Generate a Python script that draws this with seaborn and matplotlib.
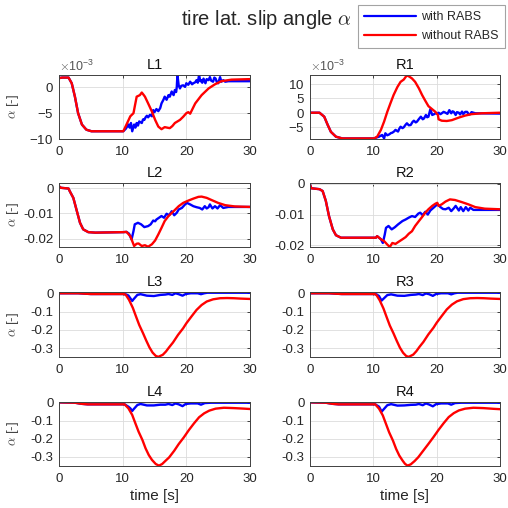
import numpy as np
import pandas as pd
import matplotlib
matplotlib.use("Agg")
import matplotlib.pyplot as plt
from matplotlib.lines import Line2D
from matplotlib.ticker import FuncFormatter
import seaborn as sns

# ---------------------------------------------------------------------------
# Tire lateral slip angle per wheel, with and without RABS.
# Each wheel: a common stretch before braking (pre), then separate tails.
# Row-1 wheels (L1, R1) are listed in units of 1e-3.
# ---------------------------------------------------------------------------
series_names = ["with RABS", "without RABS"]
series_colors = ["#0000ff", "#ff0000"]
wheel_names = ["L1", "R1", "L2", "R2", "L3", "R3", "L4", "R4"]
time_ticks = [0, 10, 20, 30]

# L1 (x1e-3)
l1_pre_t = [0, 0.5, 1.5, 2.0, 2.5, 3.0, 3.6, 4.3, 5.1, 7.0, 10.1]
l1_pre = [1.8, 1.9, 1.9, 0.8, -1.8, -5.0, -7.2, -8.2, -8.5, -8.5, -8.5]
l1_with_t = [10.5, 10.9, 11.1, 11.3, 11.5, 11.8, 12.0, 12.2, 12.4, 12.6, 13.0, 13.2, 13.4, 13.6, 13.8,
             14.0, 14.3, 14.6, 14.8, 15.0, 15.3, 15.6, 15.9, 16.1, 16.4, 16.6, 16.9, 17.2, 17.4, 17.7,
             18.0, 18.2, 18.4, 18.5, 18.6, 18.8, 19.0, 19.2, 19.5, 19.8, 20.0, 20.3, 20.6, 20.9, 21.1,
             21.4, 21.6, 21.8, 22.0, 22.2, 22.3, 22.5, 22.7, 23.0, 23.2, 23.5, 23.7, 23.9, 24.2, 24.4,
             24.6, 24.8, 25.0, 25.3, 25.5, 25.8, 26.1, 26.6, 30.0]
l1_with = [-8.0, -7.2, -7.8, -6.9, -8.5, -7.2, -7.8, -6.9, -7.4, -6.6, -6.9, -6.2, -6.3, -5.8, -5.5,
           -5.8, -5.3, -5.6, -4.4, -4.8, -4.2, -4.6, -4.0, -3.1, -2.4, -1.8, -2.4, -1.5, -1.8, -0.8,
           -1.5, -0.5, -0.9, 0.1, 2.4, 0.4, -0.2, 0.3, 0.4, 0.1, 0.8, 0.5, 1.1, 0.6, 0.8,
           1.0, 1.4, 0.9, 2.4, 1.2, 1.4, 0.9, 1.7, 0.8, 1.6, 1.4, 2.0, 1.3, 1.1, 1.9,
           1.7, 1.0, 0.8, 2.0, 1.1, 1.4, 1.1, 1.2, 1.2]
l1_without_t = [10.6, 11.2, 11.7, 11.9, 12.2, 12.7, 13.0, 13.2, 13.5, 14.0, 14.6, 15.1, 15.6, 16.1,
                16.6, 17.0, 17.4, 17.8, 18.2, 19.0, 19.5, 20.0, 20.3, 20.6, 20.8, 21.4, 22.4, 23.5,
                24.5, 25.5, 27.1, 30.0]
l1_without = [-7.2, -5.6, -5.0, -3.7, -1.8, -1.5, -1.0, -1.3, -1.8, -3.1, -4.7, -6.3, -7.6, -8.1,
              -7.7, -7.8, -7.9, -7.5, -6.9, -6.3, -5.7, -5.0, -4.8, -5.1, -4.6, -3.1, -1.5, -0.2,
              0.6, 1.2, 1.5, 1.6]

# R1 (x1e-3)
r1_pre_t = [0, 1.5, 2.25, 2.8, 3.3, 4.1, 5.1, 8.0, 10.1]
r1_pre = [0.0, 0.0, -1.4, -4.3, -6.7, -8.4, -9.0, -9.0, -9.0]
r1_with_t = [10.6, 10.9, 11.2, 11.4, 11.7, 11.9, 12.2, 12.5, 12.8, 13.0, 13.3, 13.5, 13.9, 14.1, 14.3,
             14.6, 14.8, 15.1, 15.3, 15.6, 15.9, 16.2, 16.4, 16.7, 16.9, 17.2, 17.5, 17.8, 18.0, 18.3,
             18.5, 18.7, 19.0, 19.3, 19.6, 19.8, 20.1, 20.3, 20.6, 20.8, 21.1, 21.4, 21.7, 22.0, 22.3,
             22.5, 22.7, 23.0, 23.2, 23.5, 23.7, 24.0, 24.2, 24.5, 24.8, 25.1, 25.3, 25.5, 26.1, 30.0]
r1_with = [-8.6, -8.4, -8.0, -7.8, -9.0, -7.2, -7.9, -7.6, -7.1, -7.0, -6.5, -6.0, -6.6, -5.6, -4.9,
           -5.4, -5.1, -4.2, -3.7, -4.4, -4.3, -3.2, -2.8, -3.4, -3.1, -2.2, -1.4, -2.3, -2.0, -0.8,
           -1.6, -1.4, 1.2, -0.8, -0.5, -0.2, -0.4, 0.0, -0.5, -0.2, 0.3, 0.0, -0.4, 0.9, -0.2,
           0.5, 0.3, -0.8, 0.2, 0.0, -0.6, 0.4, -0.5, 0.3, 0.3, -0.6, -0.5, 0.2, -0.2, -0.3]
r1_without_t = [10.6, 11.2, 11.7, 12.2, 12.7, 13.2, 13.8, 14.3, 14.8, 15.3, 15.7, 16.1, 16.6, 17.2,
                17.7, 18.2, 18.7, 19.3, 19.8, 20.2, 20.3, 20.8, 21.6, 22.4, 23.5, 24.5, 25.5, 27.1, 30.0]
r1_without = [-8.4, -6.0, -3.1, 0.3, 3.3, 6.2, 9.0, 10.8, 11.6, 13.1, 12.6, 12.0, 10.8, 8.5,
              6.2, 4.2, 2.3, 1.2, 0.3, -0.8, -2.3, -2.8, -2.9, -2.6, -1.7, -1.0, -0.5, -0.2, 0.0]

# L2
l2_pre_t = [0, 0.3, 1.5, 1.7, 2.25, 2.8, 3.3, 3.8, 4.6, 5.7, 8.0, 10.1, 10.6]
l2_pre = [0.0008, 0.0002, -0.0001, -0.0012, -0.0038, -0.0090, -0.0137, -0.0163, -0.0174, -0.0176,
          -0.0175, -0.0174, -0.0173]
l2_with_t = [11.0, 11.4, 11.7, 11.9, 12.4, 12.9, 13.4, 14.0, 14.4, 14.8, 15.1, 15.3, 15.7, 16.1, 16.5,
             16.9, 17.3, 17.7, 18.1, 18.5, 18.8, 19.3, 19.8, 20.1, 20.6, 21.1, 21.6, 22.1, 22.5, 22.9,
             23.2, 23.5, 23.7, 24.1, 24.5, 24.9, 25.3, 25.8, 26.6, 30.0]
l2_with = [-0.0180, -0.0203, -0.0170, -0.0143, -0.0137, -0.0143, -0.0154, -0.0150, -0.0143, -0.0128,
           -0.0131, -0.0124, -0.0117, -0.0110, -0.0117, -0.0101, -0.0107, -0.0091, -0.0107, -0.0097,
           -0.0084, -0.0078, -0.0064, -0.0058, -0.0064, -0.0071, -0.0075, -0.0078, -0.0084, -0.0071,
           -0.0080, -0.0075, -0.0064, -0.0080, -0.0071, -0.0080, -0.0067, -0.0078, -0.0074, -0.0074]
l2_without_t = [11.2, 11.6, 11.8, 12.2, 12.5, 13.0, 13.5, 14.0, 14.6, 15.1, 15.6, 16.1, 16.6, 17.2,
                18.0, 18.8, 19.5, 20.3, 21.1, 21.9, 22.4, 23.2, 24.0, 25.0, 26.1, 27.6, 30.0]
l2_without = [-0.0190, -0.0216, -0.0229, -0.0220, -0.0219, -0.0229, -0.0226, -0.0232, -0.0222,
              -0.0207, -0.0183, -0.0157, -0.0130, -0.0110, -0.0091, -0.0071, -0.0058, -0.0049,
              -0.0041, -0.0034, -0.0033, -0.0038, -0.0047, -0.0058, -0.0067, -0.0072, -0.0074]

# R2
r2_pre_t = [0, 0.2, 1.5, 2.0, 2.5, 3.0, 3.6, 4.1, 4.9, 8.0, 10.4, 10.6, 11.2]
r2_pre = [-0.0003, -0.0015, -0.0018, -0.0024, -0.0056, -0.0105, -0.0148, -0.0167, -0.0175, -0.0175,
          -0.0175, -0.0170, -0.0180]
r2_with_t = [11.5, 11.8, 12.0, 12.4, 12.9, 13.4, 13.9, 14.6, 15.1, 15.6, 16.1, 16.6, 17.1, 17.4, 17.8,
             18.2, 18.6, 19.0, 19.5, 20.1, 20.6, 21.0, 21.4, 21.9, 22.3, 22.7, 23.0, 23.5, 23.8, 24.2,
             24.6, 25.0, 25.3, 25.8, 30.0]
r2_with = [-0.0192, -0.0165, -0.0143, -0.0137, -0.0148, -0.0141, -0.0132, -0.0121, -0.0116, -0.0110,
           -0.0105, -0.0108, -0.0097, -0.0094, -0.0102, -0.0091, -0.0100, -0.0087, -0.0078, -0.0067,
           -0.0076, -0.0082, -0.0083, -0.0078, -0.0089, -0.0080, -0.0072, -0.0087, -0.0076, -0.0089,
           -0.0076, -0.0087, -0.0078, -0.0085, -0.0085]
r2_without_t = [11.7, 12.2, 12.6, 13.0, 13.5, 14.0, 14.6, 15.1, 15.6, 16.1, 16.6, 17.2, 17.7, 18.2,
                18.7, 19.3, 19.8, 20.1, 20.3, 20.8, 21.4, 22.1, 22.9, 24.0, 25.0, 26.1, 27.6, 30.0]
r2_without = [-0.0186, -0.0197, -0.0205, -0.0192, -0.0195, -0.0188, -0.0180, -0.0173, -0.0162,
              -0.0154, -0.0137, -0.0121, -0.0108, -0.0094, -0.0083, -0.0072, -0.0065, -0.0062,
              -0.0072, -0.0067, -0.0058, -0.0051, -0.0053, -0.0060, -0.0067, -0.0076, -0.0081, -0.0083]

# L3
l3_pre_t = [0, 3.0, 5.0, 10.2]
l3_pre = [0.0, 0.0, -0.004, -0.004]
l3_with_t = [10.5, 10.9, 11.5, 11.7, 12.3, 12.8, 13.8, 14.9, 15.9, 16.7, 17.2, 17.8, 18.3, 18.8,
             19.4, 19.9, 20.7, 21.8, 22.3, 22.8, 23.3, 30.0]
l3_with = [-0.006, -0.012, -0.042, -0.033, -0.009, -0.005, -0.013, -0.015, -0.009, -0.007, -0.004,
           -0.009, 0.0, -0.005, -0.013, -0.004, 0.0, 0.0, -0.005, 0.0, 0.003, 0.003]
l3_without_t = [10.5, 11.0, 11.6, 12.1, 12.6, 13.2, 13.7, 14.2, 14.7, 15.2, 15.6, 16.3, 16.8, 17.3,
                17.9, 18.7, 19.5, 20.0, 20.8, 21.6, 22.4, 23.2, 24.2, 25.3, 26.4, 27.5, 28.5, 30.0]
l3_without = [-0.009, -0.036, -0.080, -0.127, -0.173, -0.218, -0.258, -0.295, -0.324, -0.342, -0.347,
              -0.336, -0.318, -0.295, -0.269, -0.227, -0.191, -0.164, -0.127, -0.091, -0.064, -0.045,
              -0.033, -0.027, -0.026, -0.027, -0.029, -0.031]

# R3
r3_pre_t = [0, 3.0, 5.0, 10.2]
r3_pre = [0.0, 0.0, -0.004, -0.004]
r3_with_t = [10.5, 10.9, 11.3, 11.6, 12.2, 12.8, 13.8, 14.9, 15.9, 16.7, 17.2, 17.8, 18.3, 18.8,
             19.4, 19.9, 20.7, 21.8, 22.3, 22.8, 23.3, 30.0]
r3_with = [-0.006, -0.015, -0.040, -0.030, -0.010, -0.006, -0.013, -0.014, -0.009, -0.007, -0.004,
           -0.010, -0.001, -0.005, -0.014, -0.004, 0.0, 0.0, -0.006, 0.0, 0.003, 0.003]
r3_without_t = [10.5, 11.0, 11.6, 12.1, 12.6, 13.2, 13.7, 14.2, 14.7, 15.2, 15.6, 16.3, 16.8, 17.3,
                17.9, 18.7, 19.5, 20.0, 20.8, 21.6, 22.4, 23.2, 24.2, 25.3, 26.4, 27.5, 28.5, 30.0]
r3_without = [-0.010, -0.038, -0.083, -0.130, -0.176, -0.220, -0.260, -0.297, -0.325, -0.343, -0.347,
              -0.335, -0.316, -0.292, -0.266, -0.224, -0.188, -0.161, -0.124, -0.088, -0.062, -0.044,
              -0.032, -0.027, -0.026, -0.027, -0.029, -0.031]

# L4
l4_pre_t = [0, 2.5, 3.5, 4.5, 10.3]
l4_pre = [0.002, 0.0, -0.006, -0.009, -0.009]
l4_with_t = [10.9, 11.2, 11.5, 11.7, 12.3, 12.8, 13.8, 14.9, 15.9, 16.7, 17.2, 17.8, 18.3, 18.8,
             19.4, 19.9, 20.7, 21.8, 22.3, 22.9, 23.9, 30.0]
l4_with = [-0.022, -0.031, -0.046, -0.037, -0.013, -0.007, -0.015, -0.015, -0.011, -0.011, -0.007,
           -0.013, -0.004, -0.009, -0.019, -0.007, -0.004, -0.004, -0.011, -0.002, 0.0, 0.0]
l4_without_t = [10.9, 11.5, 12.0, 12.5, 13.1, 13.6, 14.1, 14.6, 15.2, 15.7, 16.2, 16.7, 17.3, 18.1,
                18.8, 19.6, 20.4, 21.2, 22.0, 22.8, 23.6, 24.6, 25.9, 27.5, 29.1, 30.0]
l4_without = [-0.031, -0.068, -0.115, -0.161, -0.207, -0.254, -0.291, -0.318, -0.341, -0.350, -0.341,
              -0.324, -0.304, -0.267, -0.230, -0.193, -0.152, -0.115, -0.081, -0.059, -0.044, -0.033,
              -0.028, -0.030, -0.033, -0.035]

# R4
r4_pre_t = [0, 2.5, 3.5, 4.5, 10.3]
r4_pre = [0.002, 0.0, -0.006, -0.009, -0.009]
r4_with_t = [10.9, 11.1, 11.3, 11.6, 12.2, 12.8, 13.8, 14.9, 15.9, 16.7, 17.2, 17.8, 18.3, 18.8,
             19.4, 19.9, 20.7, 21.8, 22.3, 22.9, 23.9, 30.0]
r4_with = [-0.022, -0.035, -0.050, -0.038, -0.014, -0.008, -0.016, -0.015, -0.012, -0.011, -0.007,
           -0.014, -0.004, -0.010, -0.020, -0.008, -0.004, -0.004, -0.011, -0.002, 0.0, 0.0]
r4_without_t = [10.9, 11.5, 12.0, 12.5, 13.1, 13.6, 14.1, 14.6, 15.0, 15.4, 15.9, 16.5, 17.1, 17.9,
                18.7, 19.5, 20.3, 21.1, 21.9, 22.7, 23.5, 24.5, 25.8, 27.4, 29.0, 30.0]
r4_without = [-0.033, -0.071, -0.118, -0.165, -0.211, -0.257, -0.294, -0.321, -0.340, -0.350, -0.343,
              -0.325, -0.303, -0.266, -0.229, -0.191, -0.151, -0.114, -0.080, -0.058, -0.043, -0.033,
              -0.028, -0.030, -0.034, -0.036]

y_ticks = {
    "L1": [-10e-3, -5e-3, 0.0], "R1": [-5e-3, 0.0, 5e-3, 10e-3],
    "L2": [-0.02, -0.01, 0.0], "R2": [-0.02, -0.01, 0.0],
    "L3": [-0.3, -0.2, -0.1, 0.0], "R3": [-0.3, -0.2, -0.1, 0.0],
    "L4": [-0.3, -0.2, -0.1, 0.0], "R4": [-0.3, -0.2, -0.1, 0.0],
}
y_limits = {
    "L1": (-10e-3, 2.4e-3), "R1": (-9.2e-3, 13.2e-3),
    "L2": (-0.0233, 0.0021), "R2": (-0.0205, 0.0002),
    "L3": (-0.348, 0.007), "R3": (-0.348, 0.007),
    "L4": (-0.352, 0.004), "R4": (-0.352, 0.004),
}

wheels = {
    "L1": (l1_pre_t, l1_pre, l1_with_t, l1_with, l1_without_t, l1_without, 1e-3),
    "R1": (r1_pre_t, r1_pre, r1_with_t, r1_with, r1_without_t, r1_without, 1e-3),
    "L2": (l2_pre_t, l2_pre, l2_with_t, l2_with, l2_without_t, l2_without, 1.0),
    "R2": (r2_pre_t, r2_pre, r2_with_t, r2_with, r2_without_t, r2_without, 1.0),
    "L3": (l3_pre_t, l3_pre, l3_with_t, l3_with, l3_without_t, l3_without, 1.0),
    "R3": (r3_pre_t, r3_pre, r3_with_t, r3_with, r3_without_t, r3_without, 1.0),
    "L4": (l4_pre_t, l4_pre, l4_with_t, l4_with, l4_without_t, l4_without, 1.0),
    "R4": (r4_pre_t, r4_pre, r4_with_t, r4_with, r4_without_t, r4_without, 1.0),
}


def wheel_frame(name):
    pre_t, pre, w_t, w, wo_t, wo, scale = wheels[name]
    parts = []
    for label, tail_t, tail in ((series_names[0], w_t, w), (series_names[1], wo_t, wo)):
        t = np.concatenate([pre_t, tail_t])
        v = np.concatenate([pre, tail]) * scale
        parts.append(pd.DataFrame({"time": t, "alpha": v, "series": label}))
    return pd.concat(parts, ignore_index=True)


sns.set_style("white")
plt.rcParams.update({
    "font.family": ["Liberation Sans", "DejaVu Sans"],
    "mathtext.fontset": "cm",
    "axes.unicode_minus": False,
    "axes.edgecolor": "#404040",
    "axes.linewidth": 0.7,
    "xtick.direction": "in",
    "ytick.direction": "in",
    "xtick.top": True,
    "ytick.right": True,
    "xtick.major.size": 2.5,
    "ytick.major.size": 2.5,
    "xtick.major.width": 0.6,
    "ytick.major.width": 0.6,
    "xtick.color": "#262626",
    "ytick.color": "#262626",
    "xtick.labelsize": 9.5,
    "ytick.labelsize": 9.5,
    "xtick.major.pad": 5,
    "ytick.major.pad": 4,
})

fig = plt.figure(figsize=(5.08, 5.08), dpi=100)
W = H = 508.0
col_left = [59, 310]
col_width = [191, 190]
row_top = [75, 183, 292, 402]
row_height = [64, 64, 65, 64]

palette = dict(zip(series_names, series_colors))
plain = FuncFormatter(lambda v, _: f"{v:g}")

for i, name in enumerate(wheel_names):
    r, c = divmod(i, 2)
    ax = fig.add_axes([col_left[c] / W, 1 - (row_top[r] + row_height[r]) / H,
                       col_width[c] / W, row_height[r] / H])
    df = wheel_frame(name)
    sns.lineplot(data=df, x="time", y="alpha", hue="series", hue_order=series_names,
                 palette=palette, estimator=None, sort=False, legend=False,
                 linewidth=1.7, ax=ax)
    ax.set_xlim(0, 30)
    ax.set_ylim(*y_limits[name])
    ax.set_xticks(time_ticks)
    ax.set_yticks(y_ticks[name])
    ax.grid(True, color="#dcdcdc", linewidth=0.6)
    ax.set_axisbelow(True)
    ax.set_title(name, fontsize=10.5, pad=4.5, color="#111111")
    if r == 0:
        ax.ticklabel_format(axis="y", style="sci", scilimits=(-3, -3), useMathText=True)
        ot = ax.yaxis.get_offset_text()
        ot.set_fontsize(9)
        ot.set_color("#555555")
    else:
        ax.yaxis.set_major_formatter(plain)
    ax.xaxis.set_major_formatter(plain)
    if c == 0:
        ax.set_ylabel(r"$\alpha$ [-]", fontsize=9.5, color="#444444")
        ax.yaxis.set_label_coords(-0.2, 0.5)
    else:
        ax.set_ylabel("")
    if r == 3:
        ax.set_xlabel("time [s]", fontsize=11, labelpad=3)
    else:
        ax.set_xlabel("")

fig.text(266 / W, 1 - 25 / H, r"tire lat. slip angle $\alpha$", fontsize=14.5,
         ha="center", va="baseline")

handles = [Line2D([], [], color=col, linewidth=1.6) for col in series_colors]
leg = fig.legend(handles, series_names, loc="upper right",
                 bbox_to_anchor=(505 / W, 1 - 5 / H), fontsize=9, frameon=True,
                 fancybox=False, handlelength=4.2, handletextpad=0.4,
                 borderpad=0.5, labelspacing=0.55, borderaxespad=0.0)
leg.get_frame().set_edgecolor("#8c8c8c")
leg.get_frame().set_linewidth(0.8)

fig.savefig("out.png", dpi=100)
